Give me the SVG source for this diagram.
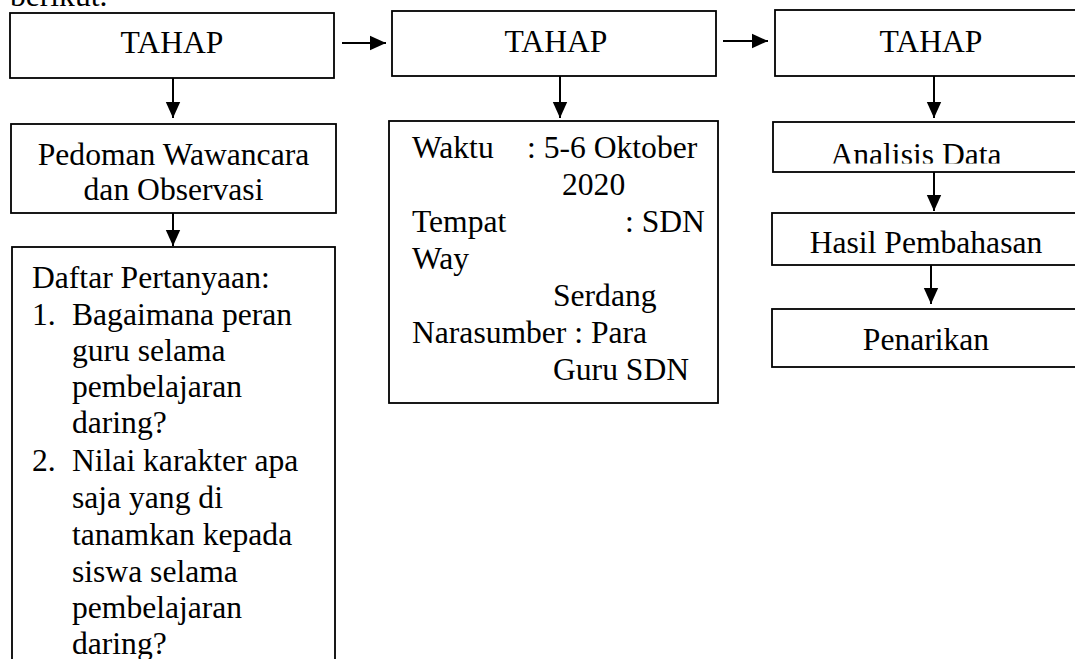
<svg xmlns="http://www.w3.org/2000/svg" width="1075" height="659" viewBox="0 0 1075 659">
<style>
.box{fill:#fff;stroke:#000;stroke-width:1.8}
.t{font-family:"Liberation Serif","Times New Roman",serif;font-size:31.6px;fill:#000}
.c{text-anchor:middle}
.ln{stroke:#000;stroke-width:2;fill:none}
</style>
<defs>
<marker id="ah" viewBox="0 0 10 10" refX="10" refY="5" markerWidth="16" markerHeight="16" markerUnits="userSpaceOnUse" orient="auto">
<path d="M0,0.5 L10,5 L0,9.5 Z" fill="#000"/>
</marker>
<clipPath id="clipA"><rect x="0" y="0" width="1075" height="163.5"/></clipPath>
</defs>
<rect width="1075" height="659" fill="#fff"/>
<text class="t" x="10" y="6">berikut.</text>
<g id="connectors">
<line class="ln" x1="173" y1="78" x2="173" y2="118" marker-end="url(#ah)"/>
<line class="ln" x1="173" y1="205" x2="173" y2="246" marker-end="url(#ah)"/>
<line class="ln" x1="342" y1="43" x2="386" y2="43" marker-end="url(#ah)"/>
<line class="ln" x1="560" y1="76" x2="560" y2="118" marker-end="url(#ah)"/>
<line class="ln" x1="723" y1="41" x2="768" y2="41" marker-end="url(#ah)"/>
<line class="ln" x1="934" y1="76" x2="934" y2="118" marker-end="url(#ah)"/>
<line class="ln" x1="934" y1="170" x2="934" y2="211" marker-end="url(#ah)"/>
<line class="ln" x1="931" y1="263" x2="931" y2="304" marker-end="url(#ah)"/>
</g>
<g id="tahap1">
<rect class="box" x="10" y="13" width="324" height="65"/>
<text class="t c" x="172" y="53">TAHAP</text>
</g>
<g id="pedoman">
<rect class="box" x="11" y="124" width="325" height="89"/>
<text class="t c" x="173.5" y="165">Pedoman Wawancara</text>
<text class="t c" x="173.5" y="200">dan Observasi</text>
</g>
<g id="daftar">
<rect class="box" x="12" y="247" width="323" height="430"/>
<text class="t" x="32" y="288">Daftar Pertanyaan:</text>
<text class="t" x="32" y="325">1.</text>
<text class="t" x="72" y="325">Bagaimana peran</text>
<text class="t" x="72" y="361">guru selama</text>
<text class="t" x="72" y="397">pembelajaran</text>
<text class="t" x="72" y="433">daring?</text>
<text class="t" x="32" y="471">2.</text>
<text class="t" x="72" y="471">Nilai karakter apa</text>
<text class="t" x="72" y="508">saja yang di</text>
<text class="t" x="72" y="545">tanamkan kepada</text>
<text class="t" x="72" y="582">siswa selama</text>
<text class="t" x="72" y="618">pembelajaran</text>
<text class="t" x="72" y="654">daring?</text>
</g>
<g id="tahap2">
<rect class="box" x="392" y="11" width="324" height="65"/>
<text class="t c" x="556" y="52">TAHAP</text>
</g>
<g id="waktu">
<rect class="box" x="389" y="121" width="329" height="282"/>
<text class="t" x="412" y="158">Waktu</text>
<text class="t" x="527" y="158">: 5-6 Oktober</text>
<text class="t" x="562" y="195">2020</text>
<text class="t" x="412" y="232">Tempat</text>
<text class="t" x="625" y="232">: SDN</text>
<text class="t" x="412" y="269">Way</text>
<text class="t" x="553" y="306">Serdang</text>
<text class="t" x="412" y="343">Narasumber : Para</text>
<text class="t" x="553" y="380">Guru SDN</text>
</g>
<g id="tahap3">
<rect class="box" x="775" y="10" width="320" height="66"/>
<text class="t c" x="931" y="52">TAHAP</text>
</g>
<g id="analisis">
<rect class="box" x="773" y="122" width="320" height="50"/>
<text class="t c" x="916" y="165" clip-path="url(#clipA)">Analisis Data</text>
</g>
<g id="hasil">
<rect class="box" x="772" y="213" width="320" height="52"/>
<text class="t c" x="926" y="253">Hasil Pembahasan</text>
</g>
<g id="penarikan">
<rect class="box" x="772" y="309" width="320" height="58"/>
<text class="t c" x="926" y="350">Penarikan</text>
</g>
</svg>
